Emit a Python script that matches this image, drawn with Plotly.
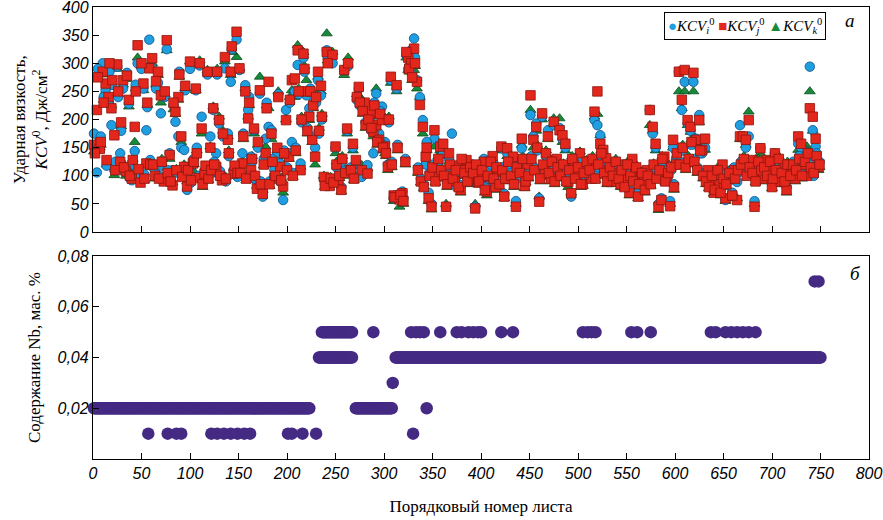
import plotly.graph_objects as go

# ---------------- data: impact toughness (top panel) ----------------
# two specimen sets, taken from interleaved sheets
sheets_a = list(range(1, 750, 3))
sheets_b = list(range(2, 750, 3))

kcv_j_a = [
    155, 217, 148, 285, 264, 240, 220, 172, 298, 125,
    270, 108, 235, 95, 187, 332, 88, 264, 122, 291,
    309, 100, 285, 243, 90, 341, 137, 83, 214, 240,
    170, 116, 81, 303, 122, 255, 96, 184, 104, 285,
    150, 220, 116, 199, 92, 311, 164, 285, 104, 356,
    291, 122, 250, 202, 110, 184, 77, 252, 68, 140,
    267, 175, 96, 150, 116, 81, 199, 134, 270, 273,
    323, 110, 317, 250, 205, 164, 134, 285, 260, 98,
    320, 82, 315, 152, 92, 75, 288, 184, 110, 157,
    128, 258, 110, 230, 104, 211, 178, 190, 164, 199,
    152, 116, 276, 65, 261, 58, 69, 125, 310, 300,
    326, 267, 226, 187, 134, 60, 45, 181, 100, 152,
    157, 45, 140, 100, 90, 118, 75, 110, 128, 95,
    115, 42, 88, 105, 125, 72, 98, 135, 80, 108,
    152, 63, 149, 95, 134, 45, 110, 166, 82, 120,
    243, 164, 187, 54, 211, 110, 170, 95, 196, 130,
    181, 172, 157, 89, 69, 120, 100, 140, 85, 110,
    125, 95, 214, 250, 157, 146, 131, 110, 90, 100,
    105, 85, 120, 95, 70, 130, 110, 63, 100, 90,
    110, 217, 187, 157, 45, 57, 134, 100, 46, 164,
    120, 285, 235, 288, 199, 187, 283, 164, 199, 146,
    166, 110, 90, 70, 100, 85, 120, 60, 95, 105,
    110, 57, 170, 170, 164, 199, 128, 45, 100, 149,
    95, 128, 110, 80, 140, 105, 90, 120, 75, 100,
    110, 95, 170, 157, 120, 100, 220, 205, 166, 116,
]
kcv_i_a = [
    175, 106, 162, 300, 252, 230, 190, 110, 294, 140,
    255, 115, 228, 92, 144, 300, 98, 255, 181, 342,
    292, 111, 265, 211, 95, 325, 140, 110, 196, 170,
    150, 146, 75, 290, 120, 252, 100, 205, 92, 280,
    170, 217, 140, 193, 98, 291, 175, 267, 110, 342,
    288, 140, 261, 217, 134, 181, 90, 246, 63, 166,
    187, 181, 110, 140, 122, 57, 217, 140, 160, 250,
    297, 122, 310, 243, 220, 170, 150, 270, 243, 95,
    323, 90, 300, 150, 95, 80, 288, 180, 105, 150,
    120, 255, 98, 229, 119, 205, 140, 246, 175, 223,
    160, 120, 270, 60, 255, 65, 72, 130, 290, 323,
    344, 270, 240, 199, 120, 70, 50, 166, 110, 152,
    140, 45, 130, 175, 85, 110, 80, 120, 100, 90,
    120, 45, 92, 100, 130, 80, 105, 125, 85, 112,
    149, 68, 140, 100, 128, 55, 105, 149, 90, 115,
    208, 170, 193, 60, 205, 105, 181, 100, 190, 125,
    185, 165, 150, 95, 63, 125, 105, 130, 90, 115,
    120, 100, 199, 190, 172, 140, 125, 105, 95, 110,
    110, 90, 115, 100, 75, 125, 105, 70, 95, 85,
    105, 217, 175, 150, 50, 60, 125, 110, 55, 150,
    130, 285, 217, 267, 193, 180, 267, 166, 208, 140,
    150, 105, 95, 75, 110, 90, 115, 57, 100, 110,
    115, 89, 190, 170, 150, 170, 120, 55, 110, 149,
    100, 120, 105, 85, 140, 100, 95, 115, 80, 110,
    105, 100, 157, 150, 115, 140, 294, 181, 152, 120,
]
kcv_k_a = [
    143, 160, 150, 280, 250, 235, 225, 101, 290, 130,
    262, 100, 223, 104, 160, 310, 95, 252, 118, 297,
    300, 95, 279, 230, 100, 323, 130, 88, 210, 235,
    160, 120, 90, 303, 110, 252, 95, 175, 102, 288,
    152, 223, 120, 205, 96, 303, 170, 279, 101, 311,
    291, 125, 255, 205, 110, 175, 82, 276, 75, 152,
    220, 165, 100, 145, 120, 70, 200, 130, 252, 240,
    332, 116, 320, 270, 199, 160, 120, 276, 250, 100,
    353, 85, 320, 140, 100, 72, 279, 175, 112, 145,
    125, 243, 119, 217, 113, 200, 170, 255, 165, 210,
    140, 110, 265, 55, 250, 45, 60, 120, 288, 300,
    288, 255, 240, 175, 125, 55, 40, 152, 105, 145,
    150, 50, 125, 105, 95, 115, 70, 100, 110, 85,
    110, 50, 85, 98, 120, 65, 95, 130, 75, 100,
    145, 60, 135, 90, 125, 50, 100, 155, 78, 118,
    217, 150, 180, 63, 200, 98, 165, 90, 202, 120,
    202, 160, 145, 80, 70, 115, 98, 143, 82, 105,
    115, 92, 205, 210, 172, 135, 120, 100, 85, 105,
    100, 80, 118, 92, 65, 128, 100, 60, 98, 88,
    100, 190, 180, 145, 39, 55, 130, 95, 50, 150,
    125, 250, 220, 250, 190, 178, 250, 160, 195, 146,
    146, 100, 85, 68, 105, 80, 118, 55, 90, 100,
    105, 60, 165, 165, 155, 214, 125, 50, 95, 140,
    90, 125, 100, 78, 135, 98, 85, 118, 70, 105,
    100, 90, 146, 145, 110, 152, 250, 180, 140, 110,
]
kcv_j_b = [
    140, 275, 160, 230, 128, 300, 270, 110, 250, 195,
    115, 278, 100, 128, 250, 112, 300, 95, 230, 120,
    120, 268, 95, 125, 250, 105, 90, 230, 110, 280,
    98, 260, 110, 92, 125, 140, 300, 85, 118, 95,
    110, 120, 285, 100, 175, 95, 140, 330, 118, 105,
    105, 170, 95, 230, 130, 100, 160, 85, 120, 220,
    85, 125, 100, 240, 92, 140, 110, 235, 100, 145,
    250, 200, 290, 180, 250, 225, 240, 180, 205, 82,
    300, 95, 88, 120, 100, 130, 105, 300, 110, 95,
    240, 230, 215, 190, 200, 185, 225, 160, 210, 150,
    140, 200, 120, 62, 150, 66, 55, 320, 290, 275,
    300, 110, 90, 80, 150, 100, 115, 90, 130, 110,
    100, 85, 120, 95, 110, 80, 130, 105, 90, 115,
    105, 120, 90, 110, 75, 100, 125, 95, 115, 85,
    110, 95, 125, 100, 85, 115, 105, 130, 90, 100,
    130, 110, 150, 95, 120, 140, 105, 125, 90, 115,
    100, 120, 90, 110, 130, 95, 115, 85, 105, 125,
    110, 130, 95, 120, 140, 105, 90, 115, 100, 125,
    95, 110, 80, 120, 100, 90, 115, 85, 105, 75,
    100, 85, 120, 95, 110, 130, 90, 105, 115, 80,
    140, 120, 150, 115, 130, 160, 125, 110, 145, 100,
    90, 80, 100, 75, 110, 70, 95, 85, 105, 65,
    95, 110, 120, 130, 100, 115, 105, 90, 125, 110,
    115, 100, 125, 95, 110, 130, 105, 90, 120, 100,
    120, 110, 130, 100, 125, 140, 115, 105, 135, 120,
]
kcv_i_b = [
    150, 290, 170, 240, 118, 285, 262, 125, 240, 180,
    108, 283, 96, 120, 262, 100, 290, 102, 222, 128,
    115, 255, 100, 118, 240, 110, 92, 225, 106, 285,
    105, 252, 115, 88, 130, 150, 296, 90, 112, 100,
    105, 125, 280, 108, 170, 90, 135, 325, 110, 98,
    110, 175, 100, 240, 125, 95, 150, 90, 130, 230,
    90, 130, 95, 245, 88, 145, 115, 230, 105, 150,
    245, 195, 285, 185, 255, 230, 230, 175, 200, 85,
    310, 90, 92, 115, 104, 125, 110, 295, 115, 100,
    235, 225, 220, 195, 205, 180, 230, 165, 215, 155,
    145, 195, 125, 65, 155, 60, 60, 315, 295, 280,
    310, 115, 95, 85, 160, 105, 120, 95, 125, 105,
    105, 90, 115, 100, 105, 85, 125, 110, 95, 120,
    110, 115, 95, 105, 80, 95, 120, 100, 110, 90,
    115, 100, 120, 105, 90, 110, 100, 125, 95, 105,
    135, 115, 145, 100, 115, 135, 110, 120, 95, 110,
    105, 115, 95, 105, 125, 100, 110, 90, 110, 120,
    115, 125, 100, 115, 135, 110, 95, 110, 105, 120,
    100, 105, 85, 115, 105, 95, 110, 90, 100, 80,
    105, 90, 115, 100, 105, 125, 95, 100, 110, 85,
    135, 125, 145, 120, 125, 155, 130, 115, 140, 105,
    95, 85, 105, 80, 105, 75, 100, 90, 100, 70,
    100, 105, 125, 125, 105, 110, 110, 95, 120, 115,
    110, 105, 120, 100, 105, 125, 110, 95, 115, 105,
    125, 105, 135, 105, 120, 135, 120, 100, 140, 125,
]
kcv_k_b = [
    145, 280, 155, 235, 120, 293, 258, 115, 245, 188,
    120, 272, 105, 130, 255, 108, 295, 92, 226, 115,
    118, 262, 98, 130, 245, 102, 95, 218, 112, 276,
    102, 255, 108, 95, 120, 145, 305, 80, 115, 92,
    112, 118, 290, 102, 180, 98, 145, 320, 115, 100,
    100, 165, 92, 225, 135, 102, 155, 80, 118, 225,
    82, 120, 105, 250, 96, 135, 108, 240, 98, 140,
    255, 205, 295, 175, 245, 220, 245, 185, 210, 80,
    305, 98, 85, 125, 96, 135, 100, 310, 108, 92,
    245, 235, 210, 185, 195, 190, 220, 155, 205, 145,
    135, 205, 115, 58, 145, 70, 50, 310, 285, 270,
    295, 105, 88, 78, 145, 98, 112, 88, 135, 115,
    95, 80, 118, 90, 112, 78, 128, 100, 88, 110,
    100, 118, 85, 112, 70, 98, 122, 92, 118, 80,
    105, 92, 128, 98, 80, 118, 102, 135, 88, 95,
    125, 108, 155, 90, 122, 145, 100, 128, 85, 118,
    95, 122, 88, 112, 135, 92, 118, 80, 100, 128,
    105, 135, 92, 125, 145, 100, 85, 118, 98, 130,
    90, 112, 78, 125, 98, 88, 118, 80, 108, 70,
    95, 82, 122, 92, 112, 135, 88, 108, 118, 75,
    145, 118, 155, 110, 135, 165, 120, 105, 150, 95,
    85, 78, 98, 70, 115, 65, 92, 80, 110, 60,
    90, 115, 118, 135, 98, 120, 100, 88, 130, 105,
    120, 98, 128, 90, 115, 135, 100, 85, 125, 95,
    115, 115, 125, 95, 130, 145, 110, 110, 130, 115,
]

# ---------------- data: Nb content (bottom panel) ----------------
# runs of consecutive sheets with constant Nb content
nb_run_start = [1, 233, 236, 271, 312]
nb_run_end = [223, 267, 267, 308, 750]
nb_run_value = [0.02, 0.04, 0.05, 0.02, 0.04]
# isolated sheets
nb_extra_sheet = [57, 77, 86, 91, 122, 128, 135, 142, 149, 156, 162, 201, 205, 216, 230,
                  289, 328, 333, 337, 341, 358, 375, 380, 387, 392, 397, 400, 421, 433,
                  505, 510, 514, 518, 555, 561, 575,
                  637, 642, 652, 658, 664, 670, 676, 683,
                  309, 330, 344, 744, 748]
nb_extra_value = [0.01] * 15 + [0.05] * 29 + [0.03, 0.01, 0.02, 0.07, 0.07]

nb_sheet, nb_value = [], []
for s, e, v in zip(nb_run_start, nb_run_end, nb_run_value):
    for sh in range(s, e + 1):
        nb_sheet.append(sh)
        nb_value.append(v)
nb_sheet += nb_extra_sheet
nb_value += nb_extra_value

# ---------------- styles ----------------
BLUE, BLUE_L = "#1F9FDF", "#0B4F8A"
RED, RED_L = "#E3271D", "#8E140D"
GREEN, GREEN_L = "#168A3A", "#0A4A1C"
PURPLE = "#452A84"
SERIF = "Liberation Serif, Times New Roman, serif"
SANS = "Liberation Sans, Arial, sans-serif"
NARROW = "Liberation Sans Narrow, Liberation Sans, Arial, sans-serif"

fig = go.Figure()
series = [
    ("KCV_k", sheets_a + sheets_b, kcv_k_a + kcv_k_b, "triangle-up", GREEN, GREEN_L),
    ("KCV_i", sheets_a + sheets_b, kcv_i_a + kcv_i_b, "circle", BLUE, BLUE_L),
    ("KCV_j", sheets_a + sheets_b, kcv_j_a + kcv_j_b, "square", RED, RED_L),
]
for name, xs, ys, sym, col, lcol in series:
    fig.add_trace(go.Scatter(x=xs, y=ys, mode="markers", name=name, cliponaxis=False,
                             marker=dict(symbol=sym, size=9.5, color=col,
                                         line=dict(color=lcol, width=0.8)),
                             xaxis="x", yaxis="y", showlegend=False))
fig.add_trace(go.Scatter(x=nb_sheet, y=nb_value, mode="markers", name="Nb", cliponaxis=False,
                         marker=dict(symbol="circle", size=12.5, color=PURPLE, line=dict(width=0)),
                         xaxis="x2", yaxis="y2", showlegend=False))

axis_common = dict(showline=True, linecolor="black", linewidth=1.3, mirror=True,
                   ticks="inside", ticklen=6, tickcolor="black", tickwidth=1.2,
                   showgrid=False, zeroline=False, automargin=False,
                   ticklabeloverflow="allow")

tick_font = dict(family=SANS, size=16, color="black", style="italic")

fig.update_layout(
    width=883, height=520,
    margin=dict(l=93, r=14, t=7, b=61),
    paper_bgcolor="white", plot_bgcolor="white",
    xaxis=dict(domain=[0, 1], range=[0, 800], anchor="y", tick0=0, dtick=50,
               showticklabels=False, **axis_common),
    yaxis=dict(domain=[0.502, 1], range=[0, 400], anchor="x", tick0=0, dtick=50,
               tickfont=tick_font,
               title=dict(text="Ударная вязкость,<br><i>KCV</i><sup>0</sup>, Дж/см<sup>2</sup>",
                          font=dict(family=SERIF, size=17, color="black"), standoff=8),
               **axis_common),
    xaxis2=dict(domain=[0, 1], range=[0, 800], anchor="y2", tick0=0, dtick=50,
                tickfont=dict(family=NARROW, size=16, color="black", style="italic"),
                title=dict(text="Порядковый номер листа",
                           font=dict(family=SERIF, size=17, color="black"), standoff=18),
                **axis_common),
    yaxis2=dict(domain=[0, 0.449], range=[0, 0.08], anchor="x2",
                tickvals=[0.02, 0.04, 0.06, 0.08],
                ticktext=["0,02", "0,04", "0,06", "0,08"],
                tickfont=tick_font,
                title=dict(text="Содержание Nb, мас. %",
                           font=dict(family=SERIF, size=17, color="black"), standoff=12),
                **axis_common),
)

legend_text = (f"<span style='color:{BLUE}'>●</span><i>KCV<sub>i</sub></i><sup>0</sup> "
               f"<span style='color:{RED}'>■</span><i>KCV<sub>j</sub></i><sup>0</sup> "
               f"<span style='color:{GREEN}'>▲</span><i>KCV<sub>k</sub></i><sup>0</sup>")
fig.add_annotation(xref="paper", yref="paper", x=0.840, y=0.958, xanchor="center", yanchor="middle",
                   text=legend_text, showarrow=False, bgcolor="white",
                   bordercolor="black", borderwidth=1, borderpad=3,
                   font=dict(family=SERIF, size=15, color="black"))
fig.add_annotation(xref="paper", yref="paper", x=0.9755, y=0.971, xanchor="center", yanchor="middle",
                   text="<i>a</i>", showarrow=False,
                   font=dict(family=SERIF, size=19, color="black"))
fig.add_annotation(xref="paper", yref="paper", x=0.983, y=0.4115, xanchor="center", yanchor="middle",
                   text="<i>б</i>", showarrow=False,
                   font=dict(family=SERIF, size=19, color="black"))

# remove the default page margin so the figure fills the 883x520 window exactly
fig.write_html("out.html", config={"displayModeBar": False},
               post_script="document.body.style.margin='0px';")
